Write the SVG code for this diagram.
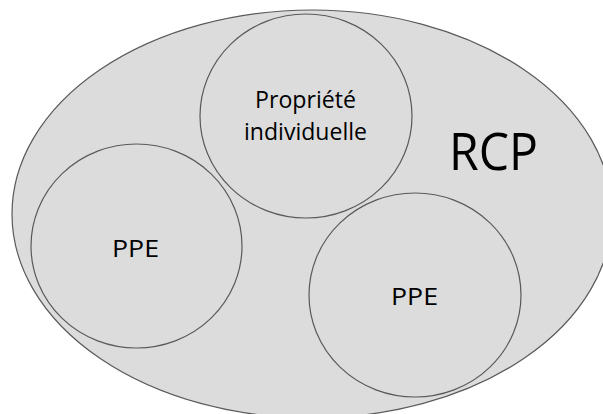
<svg xmlns="http://www.w3.org/2000/svg" width="603" height="414" viewBox="0 0 603 414">
<style>
.shape{fill:#dcdcdc;stroke:#5a5a5a;stroke-width:1.2}
.lbl{font-family:"Open Sans","Noto Sans","Liberation Sans",sans-serif;fill:#000;text-anchor:middle}
</style>
<rect width="603" height="414" fill="#fff"/>
<g id="rcp">
<ellipse class="shape" cx="312" cy="214" rx="300" ry="204"/>
<text class="lbl" x="493.5" y="170" font-size="52" textLength="89" lengthAdjust="spacingAndGlyphs">RCP</text>
</g>
<g id="propriete">
<ellipse class="shape" cx="306" cy="116" rx="106" ry="102"/>
<text class="lbl" x="305.5" y="108" font-size="23" textLength="101" lengthAdjust="spacingAndGlyphs">Propriété</text>
<text class="lbl" x="305.5" y="140" font-size="23" textLength="123" lengthAdjust="spacingAndGlyphs">individuelle</text>
</g>
<g id="ppe1">
<ellipse class="shape" cx="136.5" cy="246" rx="105.5" ry="102"/>
<text class="lbl" x="135.5" y="257" font-size="24" textLength="47" lengthAdjust="spacingAndGlyphs">PPE</text>
</g>
<g id="ppe2">
<ellipse class="shape" cx="415" cy="295" rx="106" ry="102"/>
<text class="lbl" x="414.5" y="305" font-size="24" textLength="47" lengthAdjust="spacingAndGlyphs">PPE</text>
</g>
<g id="connectors"/>
</svg>
